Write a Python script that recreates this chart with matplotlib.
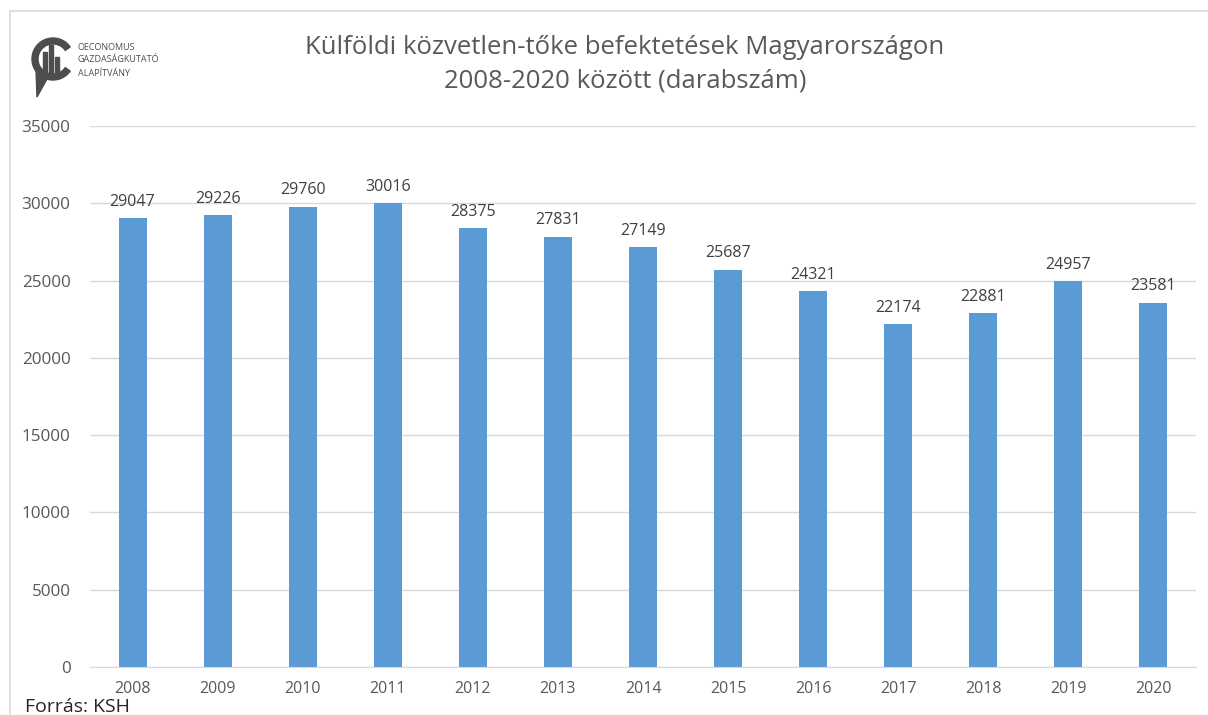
#!/usr/bin/env python3

import numpy as np
import matplotlib.pyplot as plt
from matplotlib.patches import Rectangle, Wedge, Polygon

years = ["2008", "2009", "2010", "2011", "2012", "2013", "2014",
         "2015", "2016", "2017", "2018", "2019", "2020"]
counts = [29047, 29226, 29760, 30016, 28375, 27831, 27149,
          25687, 24321, 22174, 22881, 24957, 23581]
y_ticks = [0, 5000, 10000, 15000, 20000, 25000, 30000, 35000]

title = "Külföldi közvetlen-tőke befektetések Magyarországon\n2008-2020 között (darabszám)"
source = "Forrás: KSH"
logo_lines = ["OECONOMUS", "GAZDASÁGKUTATÓ", "ALAPÍTVÁNY"]

if __name__ == "__main__":
    plt.rcParams["font.family"] = ["Open Sans", "DejaVu Sans"]

    W, H = 1208, 715
    fig = plt.figure(figsize=(W / 100, H / 100), dpi=100)

    # chart frame (light gray border, runs off right/bottom edges)
    fig.patches.append(Rectangle((10 / W, -0.05), 1.05, 1 - 11 / H + 0.05,
                                 transform=fig.transFigure, fill=False,
                                 edgecolor="#d9d9d9", lw=1.2))

    ax = fig.add_axes([90 / W, 1 - 667 / H, (1196 - 90) / W, (667 - 126) / H])
    x = np.arange(len(years))
    ax.bar(x, counts, width=0.33, color="#5b9bd5", zorder=2)
    for xi, v in zip(x, counts):
        ax.text(xi, v + 550, str(v), ha="center", va="bottom",
                fontsize=11.5, color="#404040")

    ax.set_xlim(-0.5, len(years) - 0.5)
    ax.set_ylim(0, 35000)
    ax.set_yticks(y_ticks)
    ax.set_xticks(x)
    ax.set_xticklabels(years)
    ax.tick_params(axis="both", length=0, labelsize=11.5, colors="#595959")
    ax.tick_params(axis="y", labelsize=12.3, pad=14)
    ax.tick_params(axis="x", pad=10)
    ax.grid(axis="y", color="#d9d9d9", lw=1, zorder=0)
    for s in ["top", "right", "left"]:
        ax.spines[s].set_visible(False)
    ax.spines["bottom"].set_color("#d9d9d9")

    fig.text(625 / W, 1 - 64.5 / H, title, ha="center", va="center",
             fontsize=18.5, color="#595959", linespacing=1.45)

    fig.text(25 / W, 1 - 712 / H, source, ha="left", va="baseline",
             fontsize=14, color="#262626")

    # rough logo, drawn in pixel coordinates on its own axes
    lax = fig.add_axes([28 / W, 1 - 100 / H, 52 / W, 70 / H])
    lax.set_xlim(28, 80)
    lax.set_ylim(100, 30)
    lax.axis("off")
    logo_c = "#4d4d4d"
    lax.add_patch(Wedge((53, 59), 21, 35, 325, width=6, color=logo_c))
    lax.add_patch(Polygon([(36, 70), (47, 79), (37, 97)], closed=True, color=logo_c))
    for bx, top in [(43, 52), (49, 45), (55, 57)]:
        lax.add_patch(Rectangle((bx, top), 4, 78 - top, color=logo_c))
    for i, t in enumerate(logo_lines):
        fig.text(78 / W, 1 - (47 + i * 13) / H, t, ha="left", va="center",
                 fontsize=6.5, color=logo_c)

    fig.savefig("out.png", dpi=100)
